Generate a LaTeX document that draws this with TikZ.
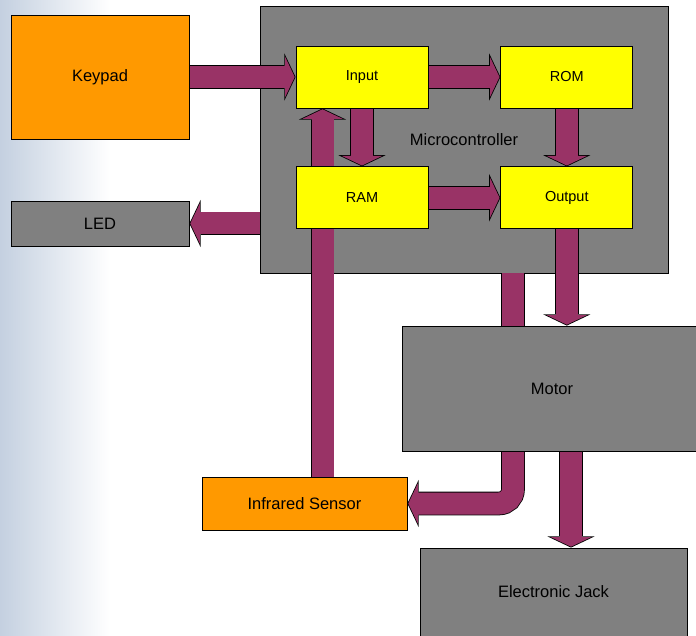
\documentclass[tikz,border=0pt]{standalone}
\usepackage{fontspec}
\setmainfont{Liberation Sans}
\usetikzlibrary{arrows.meta, positioning}
\definecolor{padorange}{HTML}{FF9900}
\definecolor{chipyellow}{HTML}{FFFF00}
\definecolor{boxgrey}{HTML}{808080}
\definecolor{busmaroon}{HTML}{993366}
\definecolor{bgblue}{HTML}{C4D0E0}
\pgfdeclarelayer{bg}
\pgfdeclarelayer{chip}
\pgfdeclarelayer{wires}
\pgfsetlayers{bg,chip,wires,main}
\tikzstyle{block} = [draw=black, line width=0.8pt, inner sep=0pt, text centered, font=\fontsize{16.5}{19}\selectfont]
\tikzstyle{device} = [block, fill=boxgrey]
\tikzstyle{sensor} = [block, fill=padorange]
\tikzstyle{memory} = [block, fill=chipyellow, minimum width=132pt, minimum height=62pt, font=\fontsize{14.5}{17}\selectfont]
\tikzstyle{bus} = [draw=busmaroon, line width=22pt, shorten >=0.9pt,
  -{Triangle[length=9.5pt 0 0, width=40pt 0 0, line width=0pt 0 0]},
  preaction={draw=black, line width=23.6pt, shorten >=0pt,
    -{Triangle[length=11.2pt 0 0, width=47.1pt 0 0, line width=0pt 0 0]}}]
\tikzstyle{busbar} = [draw=busmaroon, line width=22pt, preaction={draw=black, line width=23.6pt}]

\begin{document}
\begin{tikzpicture}[x=1pt, y=1pt]
    \useasboundingbox (0,0) rectangle (696,635);
    \begin{pgfonlayer}{bg}
        \fill[white] (0,0) rectangle (696,635);
        \fill[left color=bgblue, right color=white] (0,0) rectangle (110,635);
    \end{pgfonlayer}
    % controller housing
    \begin{pgfonlayer}{chip}
        \node[device, minimum width=408pt, minimum height=267pt] (mcu) at (464,495.5) {Microcontroller};
    \end{pgfonlayer}
    \node[memory] (input) at (362,558) {Input};
    \node[memory, right=72pt of input] (rom) {ROM};
    \node[memory, below=58pt of input] (ram) {RAM};
    \node[memory, right=72pt of ram] (output) {Output};
    % peripherals
    \node[sensor, minimum width=178pt, minimum height=124pt] (keypad) at (100,558) {Keypad};
    \node[device, minimum width=178pt, minimum height=45pt] (led) at (100,411.5) {LED};
    \node[device, minimum width=300pt, minimum height=125pt] (motor) at (552,246.5) {Motor};
    \node[sensor, minimum width=205pt, minimum height=53pt] (ir) at (304.5,131.5) {Infrared Sensor};
    \node[device, minimum width=267pt, minimum height=88pt] (jack) at (553.5,43) {Electronic Jack};
    \coordinate (irline) at (322.5,0);
    \coordinate (stub) at (513,0);
    \coordinate (jackline) at (571,0);
    \begin{pgfonlayer}{wires}
        \draw[bus] (keypad) -- (input);
        \draw[bus] (input) -- (rom);
        \draw[bus] (input) -- (ram);
        \draw[bus] (rom) -- (output);
        \draw[bus] (ram) -- (output);
        \draw[bus] (output.south) -- (output.south |- motor.north);
        \draw[bus] (mcu.west |- led) -- (led);
        \draw[bus] (ir.north -| irline) -- (input.south -| irline);
        \draw[busbar] (mcu.south -| stub) -- (motor.north -| stub);
        \draw[bus, rounded corners=14pt] (motor.south -| stub) |- (ir.east);
        \draw[bus] (motor.south -| jackline) -- (jack.north -| jackline);
    \end{pgfonlayer}
\end{tikzpicture}
\end{document}
